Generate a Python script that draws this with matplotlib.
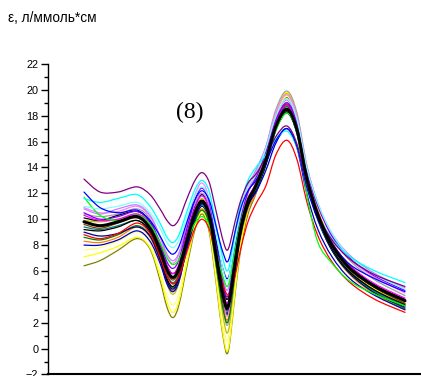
import matplotlib
matplotlib.use("Agg")
import matplotlib.pyplot as plt
import numpy as np
from matplotlib.path import Path
from matplotlib.patches import PathPatch
from matplotlib.ticker import MultipleLocator

# длины волн (нм), оси X на исходном рисунке нет
wavelength = [218, 226, 235, 244.5, 251, 256, 259.5, 262.5, 265.5, 269.5, 273.5, 277,
              280.5, 283.5, 286, 288, 289.5, 291, 293.5, 296.5, 300, 304, 309, 314,
              319.5, 324.5, 329.5, 335, 342, 351, 363.5, 378.5]

purple = [13.1, 12.1, 12.1, 12.5, 11.9, 10.8, 9.9, 9.5, 10.0, 11.6, 13.0, 13.6, 12.9, 11.0, 9.3, 8.1,
          7.6, 8.1, 9.8, 11.5, 12.8, 13.5, 14.8, 16.4, 17.2, 15.8, 12.7, 10.3, 8.4, 6.9, 5.7, 4.8]
blue = [12.1, 10.9, 10.5, 10.7, 9.9, 8.7, 7.7, 7.3, 7.9, 9.8, 11.5, 12.2, 11.5, 9.8, 8.2, 7.2,
        6.7, 7.2, 9.0, 10.9, 12.2, 13.0, 14.4, 16.1, 17.0, 15.6, 12.4, 10.0, 8.1, 6.5, 5.4, 4.4]
cyan = [11.6, 11.3, 11.6, 11.9, 11.0, 9.7, 8.6, 8.2, 8.8, 10.6, 12.3, 13.0, 12.2, 10.0, 8.0, 6.6,
        6.0, 6.6, 9.0, 11.3, 13.0, 14.0, 15.0, 16.2, 16.8, 15.5, 12.5, 10.3, 8.5, 7.1, 6.0, 5.1]
light_cyan = [11.0, 10.8, 11.0, 11.3, 10.5, 9.3, 8.2, 7.8, 8.4, 10.2, 11.8, 12.5, 11.6, 9.4, 7.2, 5.8,
              5.2, 5.9, 8.3, 10.7, 12.5, 13.5, 15.5, 18.0, 19.3, 17.7, 13.9, 11.2, 8.9, 7.1, 5.7, 4.6]
green = [11.7, 10.3, 9.9, 10.3, 9.6, 8.2, 7.0, 6.5, 6.9, 8.4, 9.7, 10.2, 9.6, 7.9, 6.3, 5.3,
         4.8, 5.4, 7.6, 9.9, 11.5, 12.4, 14.4, 16.9, 18.2, 16.6, 11.8, 8.2, 6.6, 5.2, 4.2, 3.3]
violet = [10.5, 10.0, 10.2, 10.6, 9.8, 8.2, 6.7, 6.2, 6.9, 9.3, 11.5, 12.4, 11.4, 8.8, 6.4, 4.7,
          4.0, 4.7, 7.4, 10.1, 12.1, 13.2, 15.2, 17.7, 19.0, 17.4, 13.7, 11.0, 8.7, 7.0, 5.6, 4.5]
magenta = [10.3, 9.9, 10.0, 10.4, 9.6, 7.9, 6.4, 5.8, 6.5, 8.8, 10.9, 11.8, 10.8, 8.2, 5.8, 4.2,
           3.5, 4.2, 6.9, 9.7, 11.6, 12.8, 14.8, 17.5, 18.8, 17.2, 13.4, 10.5, 8.2, 6.4, 5.0, 3.9]
pink = [10.9, 10.5, 10.6, 11.0, 10.2, 8.6, 7.1, 6.6, 7.3, 9.7, 11.9, 12.8, 11.6, 8.4, 5.4, 3.4,
        2.5, 3.4, 6.6, 9.9, 12.2, 13.6, 15.6, 18.3, 19.6, 17.9, 14.0, 11.1, 8.7, 6.9, 5.5, 4.3]
gray = [10.4, 10.2, 10.4, 10.8, 10.0, 7.8, 5.8, 5.0, 5.8, 8.5, 11.0, 12.0, 10.8, 7.6, 4.7, 2.7,
        1.8, 2.7, 6.1, 9.5, 12.0, 13.4, 15.6, 18.5, 19.9, 18.2, 14.1, 11.2, 8.7, 6.8, 5.3, 4.1]
khaki = [9.9, 9.8, 10.0, 10.4, 9.6, 7.2, 5.0, 4.2, 5.1, 7.9, 10.5, 11.6, 10.4, 7.1, 4.1, 2.1,
         1.2, 2.1, 5.5, 9.0, 11.4, 12.9, 15.2, 18.2, 19.7, 17.9, 13.8, 10.7, 8.2, 6.3, 4.7, 3.5]
black1 = [10.1, 9.9, 10.3, 10.6, 9.8, 8.0, 6.4, 5.8, 6.5, 8.9, 11.0, 11.9, 10.9, 8.4, 6.1, 4.5,
          3.8, 4.5, 7.1, 9.7, 11.6, 12.7, 14.8, 17.5, 18.8, 17.2, 13.3, 10.5, 8.2, 6.4, 4.9, 3.8]
black2 = [9.2, 9.1, 9.4, 9.9, 9.0, 7.1, 5.4, 4.8, 5.6, 8.0, 10.2, 11.2, 10.2, 7.5, 5.0, 3.3,
          2.6, 3.4, 6.2, 9.1, 11.1, 12.3, 14.3, 17.0, 18.3, 16.7, 12.9, 10.1, 7.7, 5.9, 4.5, 3.4]
navy = [9.0, 8.7, 8.9, 9.4, 8.7, 6.9, 5.2, 4.6, 5.4, 7.8, 10.0, 11.0, 10.0, 7.4, 5.0, 3.4,
        2.7, 3.5, 6.2, 9.0, 11.0, 12.2, 14.2, 16.9, 18.2, 16.6, 12.7, 9.9, 7.6, 5.8, 4.3, 3.2]
yellow = [7.1, 7.4, 7.9, 8.6, 7.8, 5.6, 3.6, 2.8, 3.7, 6.7, 9.4, 10.6, 9.3, 6.0, 2.8, 0.7,
          -0.2, 0.8, 4.4, 8.1, 10.7, 12.3, 14.9, 18.2, 19.8, 18.0, 13.8, 10.7, 8.2, 6.2, 4.6, 3.4]
olive = [6.4, 6.8, 7.6, 8.5, 7.7, 5.3, 3.2, 2.4, 3.4, 6.4, 9.2, 10.4, 9.1, 5.8, 2.6, 0.5,
         -0.4, 0.6, 4.2, 7.8, 10.4, 12.0, 14.5, 17.8, 19.4, 17.6, 13.5, 10.5, 8.0, 6.0, 4.5, 3.3]
red = [8.8, 8.5, 8.9, 9.7, 8.9, 7.1, 5.6, 5.0, 5.6, 7.5, 9.3, 10.0, 9.3, 7.5, 5.8, 4.7,
       4.2, 4.3, 5.6, 7.8, 9.8, 11.2, 12.6, 15.0, 16.1, 14.6, 11.3, 8.7, 6.7, 5.1, 3.8, 2.8]
orange = [8.3, 8.2, 8.6, 9.4, 8.6, 6.8, 5.1, 4.5, 5.3, 7.7, 9.9, 10.8, 9.8, 7.1, 4.6, 2.9,
          2.2, 3.0, 5.8, 8.7, 10.8, 12.0, 14.4, 17.5, 19.0, 17.2, 13.2, 10.1, 7.6, 5.7, 4.2, 3.0]
teal = [9.4, 9.2, 9.5, 9.9, 9.1, 7.3, 5.7, 5.1, 5.8, 8.1, 10.2, 11.1, 10.1, 7.6, 5.2, 3.6,
        2.9, 3.7, 6.5, 9.4, 11.4, 12.6, 14.6, 17.1, 18.4, 16.7, 12.9, 10.0, 7.7, 5.9, 4.4, 3.3]
light_yellow = [7.6, 7.8, 8.3, 9.0, 8.2, 6.0, 4.1, 3.4, 4.3, 7.2, 9.9, 11.0, 9.8, 6.5, 3.5, 1.5,
                0.6, 1.6, 5.0, 8.6, 11.1, 12.6, 15.0, 18.0, 19.5, 17.8, 13.7, 10.7, 8.2, 6.3, 4.8, 3.6]
dark_green = [8.6, 8.4, 8.8, 9.5, 8.7, 6.9, 5.3, 4.7, 5.4, 7.7, 9.8, 10.7, 9.7, 7.0, 4.4, 2.7,
              2.0, 2.8, 5.8, 8.9, 11.0, 12.3, 14.5, 17.3, 18.7, 17.0, 13.0, 10.1, 7.6, 5.8, 4.3, 3.1]
blue2 = [8.0, 8.0, 8.4, 9.1, 8.3, 6.6, 5.0, 4.4, 5.2, 7.8, 10.2, 11.2, 10.5, 8.7, 7.0, 5.9,
         5.4, 5.9, 7.9, 9.9, 11.3, 12.1, 13.8, 15.9, 17.0, 15.5, 11.9, 9.2, 7.1, 5.4, 4.1, 3.0]
lavender = [10.8, 10.4, 10.8, 11.1, 10.3, 8.7, 7.3, 6.8, 7.4, 9.4, 11.2, 12.0, 11.1, 8.8, 6.6, 5.1,
            4.5, 5.2, 7.9, 10.7, 12.6, 13.8, 15.6, 18.0, 19.2, 17.6, 13.9, 11.2, 8.9, 7.2, 5.8, 4.7]
brown = [9.6, 9.3, 9.7, 10.1, 9.3, 7.5, 5.9, 5.3, 6.0, 8.3, 10.4, 11.3, 10.4, 7.9, 5.6, 4.1,
         3.4, 4.1, 6.7, 9.4, 11.3, 12.4, 14.6, 17.5, 18.9, 17.2, 13.3, 10.4, 8.0, 6.1, 4.7, 3.5]
average = [9.8, 9.5, 9.8, 10.2, 9.3, 7.6, 6.1, 5.5, 6.2, 8.4, 10.5, 11.4, 10.4, 7.8, 5.4, 3.8,
           3.1, 3.9, 6.6, 9.4, 11.4, 12.6, 14.6, 17.2, 18.5, 16.9, 13.1, 10.3, 8.0, 6.2, 4.8, 3.7]

spectra = [
    (olive, "#808000"), (yellow, "#ffff00"), (light_yellow, "#ffff80"), (khaki, "#c0c000"),
    (gray, "#a0a0a0"), (orange, "#ff8000"), (dark_green, "#008000"), (navy, "#000080"),
    (teal, "#008080"), (brown, "#804000"), (black2, "#000000"), (black1, "#000000"),
    (magenta, "#ff00ff"), (pink, "#ff80ff"), (lavender, "#c080ff"), (violet, "#8000ff"),
    (blue2, "#0000c0"), (red, "#ff0000"), (green, "#00ff00"), (light_cyan, "#80ffff"),
    (cyan, "#00ffff"), (blue, "#0000ff"), (purple, "#800080"),
]


def smooth_line(ax, xs, ys, color, lw):
    # гладкая линия через точки (кубические кривые Безье, как сглаживание в Origin)
    pts = np.column_stack([xs, ys])
    n = len(pts)
    verts = [pts[0]]
    codes = [Path.MOVETO]
    for i in range(n - 1):
        p_prev = pts[max(i - 1, 0)]
        p_next = pts[min(i + 2, n - 1)]
        c1 = pts[i] + (pts[i + 1] - p_prev) / 6
        c2 = pts[i + 1] - (p_next - pts[i]) / 6
        verts += [c1, c2, pts[i + 1]]
        codes += [Path.CURVE4] * 3
    ax.add_patch(PathPatch(Path(verts, codes), fill=False, edgecolor=color, lw=lw,
                           capstyle="round", joinstyle="round"))


fig = plt.figure(figsize=(4.21, 3.76), dpi=100)
ax = fig.add_axes([0.114, 0.004, 0.886, 0.826])

for values, color in spectra:
    smooth_line(ax, wavelength, values, color, 0.9)
smooth_line(ax, wavelength, average, "black", 2.2)

ax.set_xlim(200, 386.5)
ax.set_ylim(-2, 22)
ax.yaxis.set_major_locator(MultipleLocator(2))
ax.yaxis.set_minor_locator(MultipleLocator(1))
ax.tick_params(axis="y", which="major", length=5, width=1, labelsize=7.8, pad=2)
ax.tick_params(axis="y", which="minor", length=3, width=1)
ax.set_xticks([])
for label in ax.get_yticklabels():
    label.set_fontfamily("Liberation Sans")
ax.spines["top"].set_visible(False)
ax.spines["right"].set_visible(False)
ax.spines["left"].set_linewidth(1.0)
ax.spines["bottom"].set_linewidth(1.5)

fig.text(0.019, 0.952, "ε, л/ммоль*см", fontsize=9.8, family="Liberation Sans",
         ha="left", va="center")
ax.text(0.381, 0.845, "(8)", transform=ax.transAxes, fontsize=17,
        family="Liberation Serif", ha="center", va="center")

fig.savefig("out.png", dpi=100)
